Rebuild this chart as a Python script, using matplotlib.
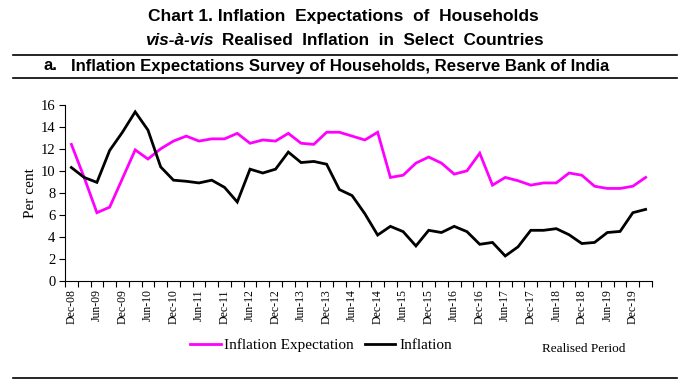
import matplotlib
matplotlib.use("Agg")
import matplotlib.pyplot as plt
from matplotlib.lines import Line2D
import numpy as np

quarters = ["Dec-08", "Mar-09", "Jun-09", "Sep-09", "Dec-09", "Mar-10", "Jun-10", "Sep-10",
            "Dec-10", "Mar-11", "Jun-11", "Sep-11", "Dec-11", "Mar-12", "Jun-12", "Sep-12",
            "Dec-12", "Mar-13", "Jun-13", "Sep-13", "Dec-13", "Mar-14", "Jun-14", "Sep-14",
            "Dec-14", "Mar-15", "Jun-15", "Sep-15", "Dec-15", "Mar-16", "Jun-16", "Sep-16",
            "Dec-16", "Mar-17", "Jun-17", "Sep-17", "Dec-17", "Mar-18", "Jun-18", "Sep-18",
            "Dec-18", "Mar-19", "Jun-19", "Sep-19", "Dec-19", "Mar-20"]

inflation_expectation = [12.4, 9.4, 6.2, 6.7, 9.3, 11.9, 11.07, 12.0, 12.7, 13.15,
                         12.7, 12.9, 12.9, 13.4, 12.5, 12.8, 12.7, 13.4, 12.5, 12.4,
                         13.5, 13.5, 13.15, 12.8, 13.5, 9.4, 9.6, 10.7, 11.25, 10.7,
                         9.7, 10.0, 11.6, 8.7, 9.4, 9.1, 8.7, 8.9, 8.9, 9.8,
                         9.6, 8.6, 8.4, 8.4, 8.6, 9.4]

inflation = [10.3, 9.4, 8.95, 11.85, 13.5, 15.35, 13.7, 10.35, 9.15, 9.05,
             8.9, 9.15, 8.5, 7.17, 10.15, 9.8, 10.15, 11.7, 10.75, 10.85,
             10.6, 8.3, 7.75, 6.1, 4.17, 4.96, 4.48, 3.18, 4.6, 4.4,
             4.96, 4.48, 3.33, 3.5, 2.27, 3.1, 4.6, 4.6, 4.75, 4.2,
             3.4, 3.5, 4.4, 4.5, 6.2, 6.5]

y_ticks = [0, 2, 4, 6, 8, 10, 12, 14, 16]

W, H = 680, 383
fig = plt.figure(figsize=(W / 100, H / 100), dpi=100)

serif = "Liberation Serif"
sans = "Liberation Sans"

ax = fig.add_axes([65 / W, 1 - 281 / H, 587 / W, 176.3 / H])
x = np.arange(len(quarters))
l1, = ax.plot(x, inflation_expectation, color="#FF00FF", lw=2.0, solid_joinstyle="miter")
l2, = ax.plot(x, inflation, color="black", lw=2.0, solid_joinstyle="miter")

ax.set_xlim(-0.5, len(quarters) - 0.5)
ax.set_ylim(0, 16)
ax.set_yticks(y_ticks)
ax.set_yticklabels([str(v) for v in y_ticks], family=serif, fontsize=10.5)

major = x[::2]
ax.set_xticks(major)
ax.set_xticklabels([quarters[i] for i in major], rotation=90, family=serif, fontsize=8.5)
ax.set_xticks(np.arange(-0.5, len(quarters), 1.0), minor=True)
ax.tick_params(axis="x", which="major", length=0, pad=6)
ax.tick_params(axis="x", which="minor", length=4, width=0.8, direction="out")
ax.tick_params(axis="y", length=4, width=0.8, direction="out", pad=3)

for s in ["top", "right"]:
    ax.spines[s].set_visible(False)
for s in ["left", "bottom"]:
    ax.spines[s].set_linewidth(0.8)

ax.set_ylabel("Per cent", family=serif, fontsize=11)
ax.yaxis.set_label_coords(-0.047, 0.5)

# Titles
fig.text(343 / W, 1 - 17 / H, "Chart 1. Inflation  Expectations  of  Households",
         ha="center", va="center", fontsize=12.5, weight="bold", family=sans)
fig.text(214 / W, 1 - 40.5 / H, "vis-à-vis", ha="right", va="center", fontsize=12.3,
         weight="bold", style="italic", family=sans)
fig.text(222 / W, 1 - 40.5 / H, "Realised  Inflation  in  Select  Countries", ha="left",
         va="center", fontsize=12.3, weight="bold", family=sans)
fig.text(43 / W, 1 - 66 / H, "a.", ha="left", va="center", fontsize=12.1,
         weight="bold", family=sans)
fig.text(71 / W, 1 - 66 / H, "Inflation Expectations Survey of Households, Reserve Bank of India",
         ha="left", va="center", fontsize=12.1, weight="bold", family=sans)

for yy in [55, 78, 377.5]:
    fig.add_artist(Line2D([13 / W, 677 / W], [1 - yy / H, 1 - yy / H],
                          transform=fig.transFigure, color="black", lw=1.2))

fig.legend([l1, l2], ["Inflation Expectation", "Inflation"], loc="center left",
           bbox_to_anchor=(190 / W, 1 - 345 / H), ncol=2, frameon=False,
           prop={"family": serif, "size": 11}, handlelength=2.0, handletextpad=0.25,
           columnspacing=0.7, borderpad=0, borderaxespad=0)

fig.text(584 / W, 1 - 349 / H, "Realised Period", ha="center", va="center",
         family=serif, fontsize=9.5)

fig.savefig("out.png", dpi=100)
